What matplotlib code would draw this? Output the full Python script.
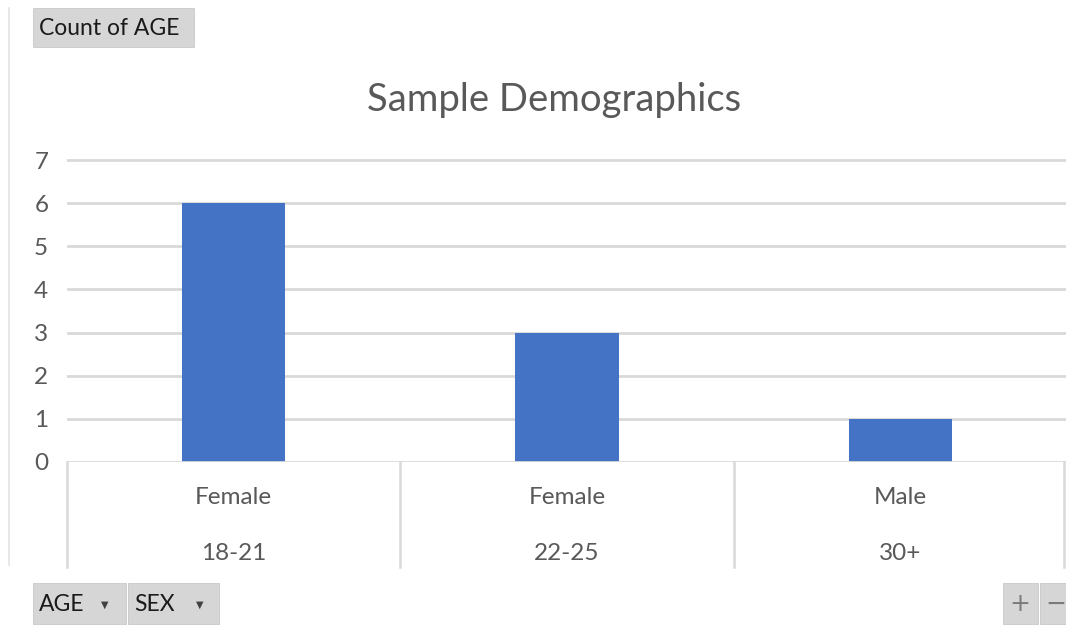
import matplotlib
matplotlib.use("Agg")
import matplotlib.pyplot as plt
from matplotlib.patches import Rectangle
from matplotlib.transforms import blended_transform_factory

# Pivot chart data: count of AGE by age band and sex
age_groups = ["18-21", "22-25", "30+"]
sex_groups = ["Female", "Female", "Male"]
counts = [6, 3, 1]
y_ticks = [0, 1, 2, 3, 4, 5, 6, 7]

W, H = 1066, 629
DPI = 100
FONT = "Lato"
TEXT_GREY = "#595959"
GRID = "#d9d9d9"
BAR = "#4472C4"

fig = plt.figure(figsize=(W / DPI, H / DPI), dpi=DPI)
fig.patch.set_facecolor("white")


def fx(px):
    return px / W


def fy(py):
    return 1 - py / H


# plot area: y=0 at 462 px, 43.14 px per unit
unit = 43.14
y0_px = 462
ytop = 7.1
ax = fig.add_axes([fx(67), fy(y0_px), fx(1067) - fx(67), (ytop * unit) / H])
ax.set_xlim(-0.5, 2.5)
ax.set_ylim(0, ytop)
for s in ax.spines.values():
    s.set_visible(False)
ax.set_xticks([])
ax.set_yticks(y_ticks)
ax.set_yticklabels([str(t) for t in y_ticks], fontfamily=FONT, fontsize=17.5, color=TEXT_GREY)
ax.tick_params(axis="y", length=0, pad=13.5)
for t in y_ticks[1:]:
    ax.axhline(t, color=GRID, lw=2.0, zorder=0)
ax.axhline(0, color=GRID, lw=2.0, zorder=3)

x = list(range(len(counts)))
ax.bar(x, counts, width=0.31, color=BAR, zorder=2)

# two-level category axis below the plot
trans = blended_transform_factory(ax.transData, fig.transFigure)
for b in [-0.5, 0.5, 1.5, 2.49]:
    ax.plot([b, b], [fy(462), fy(567)], transform=trans, color=GRID, lw=1.8, clip_on=False)
for i in x:
    ax.text(i, fy(497), sex_groups[i], transform=trans, ha="center", va="center",
            fontfamily=FONT, fontsize=17.5, color=TEXT_GREY)
    ax.text(i, fy(553), age_groups[i], transform=trans, ha="center", va="center",
            fontfamily=FONT, fontsize=17.5, color=TEXT_GREY)

fig.text(fx(554), fy(100), "Sample Demographics", ha="center", va="center",
         fontfamily=FONT, fontsize=27.5, color=TEXT_GREY)

# chart frame edge on the left
fig.add_artist(plt.Line2D([fx(9), fx(9)], [fy(8), fy(565)], color="#e3e3e3", lw=1.2))


def button(x0, y0, x1, y1, label=None, fs=16.5):
    fig.patches.append(Rectangle((fx(x0), fy(y1)), fx(x1) - fx(x0), fy(y0) - fy(y1),
                                 transform=fig.transFigure, facecolor="#d6d6d6",
                                 edgecolor="#c8c8c8", lw=0.6))
    if label is not None:
        fig.text(fx(x0 + 6), fy((y0 + y1) / 2 + 1), label, ha="left", va="center",
                 fontfamily=FONT, fontsize=fs, color="#1a1a1a")


button(33, 8, 194, 47, "Count of AGE")
button(33, 583, 126, 624, "AGE")
button(128, 583, 219, 624, "SEX")
for cx in (105, 200):
    fig.text(fx(cx), fy(605), "▼", ha="center", va="center", fontsize=7, color="#404040",
             fontfamily="DejaVu Sans")
button(1003, 583, 1038, 624)
button(1040, 583, 1070, 624)
fig.text(fx(1020), fy(604), "+", ha="center", va="center", fontsize=18, color="#7a7a7a",
         fontfamily="DejaVu Sans")
fig.text(fx(1056), fy(604), "−", ha="center", va="center", fontsize=18, color="#7a7a7a",
         fontfamily="DejaVu Sans")

fig.savefig("out.png", dpi=DPI)
